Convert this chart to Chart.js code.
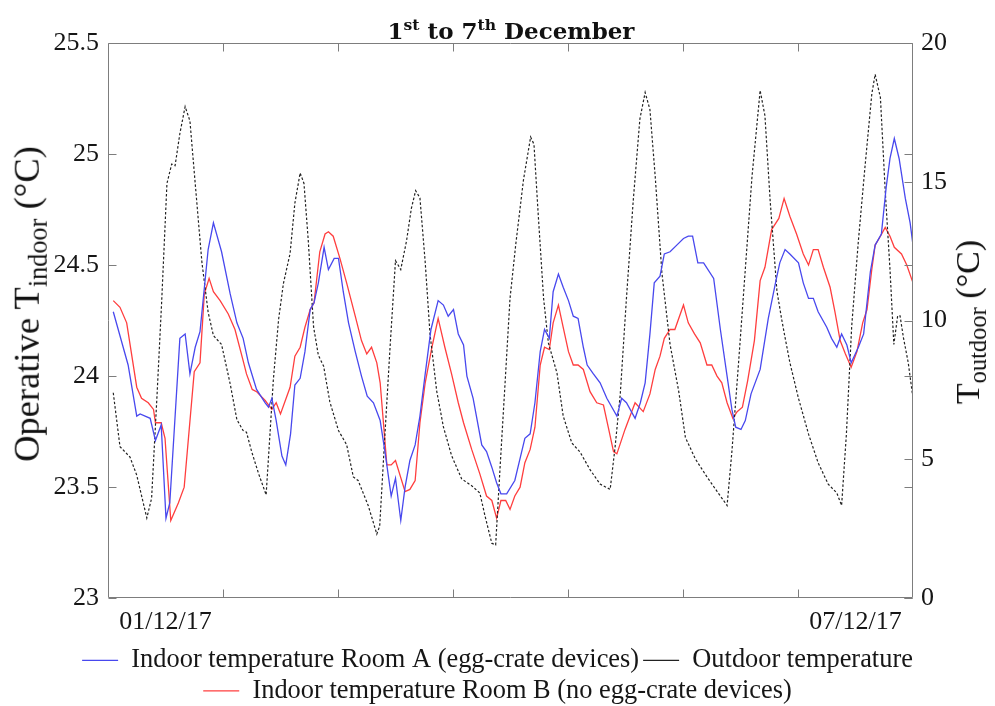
<!DOCTYPE html>
<html><head><meta charset="utf-8">
<script src="https://cdn.jsdelivr.net/npm/chart.js@4.4.0/dist/chart.umd.min.js"></script>
<style>
html,body{margin:0;padding:0;background:#fff;}
#wrap{position:relative;width:995px;height:706px;overflow:hidden;}
canvas{position:absolute;left:0;top:0;}
.ttl{position:absolute;left:511px;top:19px;transform:translate(-50%,0);font-family:'DejaVu Serif';font-weight:bold;font-size:23px;line-height:1;color:#111;white-space:nowrap;}
.ax{position:absolute;font-family:'Liberation Serif';color:#111;white-space:nowrap;line-height:1;transform:translate(-50%,-50%) rotate(-90deg);}
sup{font-size:0.68em;vertical-align:0.55em;line-height:0;}
sub{font-size:0.72em;vertical-align:-0.3em;line-height:0;}
</style></head>
<body>
<div id="wrap">
<canvas id="c" width="995" height="706"></canvas>
<div class="ttl">1<sup>st</sup> to 7<sup>th</sup> December</div>
<div class="ax" id="yl" style="left:27px;top:304px;font-size:36.5px;">Operative T<sub>indoor</sub> (°C)</div>
<div class="ax" id="yr" style="left:968px;top:322px;font-size:34px;">T<sub>outdoor</sub> (°C)</div>
</div>
<script>
// ---- data (hours since 01/12/17 00:00) ----
const hoursA = [1.1,4.2,6.0,6.7,8.8,9.9,11.1,12.1,12.9,15.0,16.1,17.1,18.2,19.2,20.9,22.0,23.7,25.5,26.9,28.2,29.3,31.0,32.8,33.5,34.2,35.1,36.3,37.1,38.1,39.0,40.1,41.1,42.2,43.0,43.9,45.1,46.0,47.2,48.1,49.1,50.2,51.6,52.9,54.1,55.4,56.8,57.8,59.1,60.0,61.1,62.0,63.0,64.1,65.1,66.2,67.4,68.9,70.0,71.0,72.1,73.1,74.2,74.9,76.2,78.0,79.0,80.1,81.1,82.0,83.2,84.9,86.0,87.0,88.1,89.1,90.2,91.1,92.1,92.9,94.0,95.0,96.1,97.1,98.1,99.2,100.0,101.3,102.7,104.1,106.2,107.2,108.2,110.0,111.1,112.1,113.1,114.0,115.2,116.1,117.3,118.7,120.1,121.1,122.0,123.1,124.3,126.4,127.8,129.2,130.2,131.0,132.1,133.0,134.2,136.1,137.8,139.4,140.2,141.3,142.3,144.1,145.1,146.2,147.2,148.2,150.0,151.0,152.1,153.1,154.2,155.1,156.6,157.7,159.1,160.1,161.4,162.4,163.2,164.1,165.1,166.4,167.4,168];
const roomA = [24.29,24.05,23.82,23.83,23.81,23.71,23.78,23.36,23.43,24.17,24.19,24.01,24.13,24.20,24.57,24.69,24.56,24.37,24.24,24.17,24.06,23.94,23.88,23.86,23.90,23.80,23.64,23.60,23.74,23.96,23.99,24.11,24.30,24.33,24.42,24.58,24.48,24.53,24.53,24.38,24.24,24.11,24.00,23.91,23.88,23.80,23.66,23.46,23.54,23.35,23.50,23.62,23.69,23.82,24.01,24.21,24.34,24.32,24.27,24.30,24.19,24.14,24.00,23.90,23.69,23.66,23.59,23.52,23.47,23.47,23.53,23.63,23.72,23.74,23.88,24.11,24.21,24.17,24.38,24.46,24.40,24.34,24.27,24.26,24.13,24.05,24.01,23.97,23.90,23.82,23.90,23.88,23.81,23.88,23.97,24.19,24.42,24.45,24.55,24.56,24.59,24.62,24.63,24.63,24.51,24.51,24.44,24.21,24.00,23.85,23.77,23.76,23.80,23.92,24.03,24.26,24.43,24.51,24.57,24.55,24.51,24.42,24.35,24.35,24.29,24.22,24.17,24.13,24.19,24.14,24.06,24.13,24.19,24.47,24.59,24.64,24.85,24.98,25.07,24.98,24.80,24.69,24.59];

const hoursB = [1.1,2.5,3.9,6.0,7.0,8.4,9.5,9.9,11.1,11.9,13.1,14.7,15.9,18.0,19.2,20.1,21.1,22.0,23.4,25.1,26.5,28.2,28.9,30.1,31.0,32.8,34.2,35.1,36.0,38.0,39.0,40.1,41.1,42.2,43.0,44.2,45.3,46.0,47.0,48.4,49.8,51.6,52.9,54.0,55.0,56.1,56.8,58.2,59.1,60.0,62.0,63.0,64.1,65.1,66.2,67.6,68.9,70.3,71.7,73.1,74.2,75.9,77.6,79.0,80.1,81.1,82.0,83.0,83.9,84.9,86.0,87.0,88.1,89.1,90.2,91.1,92.1,92.9,94.0,95.0,96.1,97.1,98.1,99.2,100.6,102.0,103.4,104.4,105.5,106.2,107.9,110.0,111.7,113.1,114.2,115.2,116.1,117.3,118.3,120.1,121.1,122.4,123.6,125.0,126.0,127.1,128.1,129.2,130.4,131.3,132.4,133.5,134.9,136.1,137.1,138.5,140.0,141.1,142.3,143.7,145.1,146.2,147.2,148.2,149.3,150.7,151.7,152.8,153.9,155.1,156.3,157.5,158.4,159.4,160.1,161.2,162.2,163.2,164.1,165.6,166.7,168];
const roomB = [24.34,24.31,24.24,23.95,23.90,23.88,23.85,23.79,23.79,23.72,23.35,23.43,23.50,24.02,24.06,24.37,24.44,24.38,24.34,24.28,24.21,24.07,24.01,23.94,23.93,23.89,23.85,23.88,23.83,23.95,24.09,24.13,24.22,24.30,24.33,24.56,24.64,24.65,24.63,24.53,24.42,24.27,24.16,24.10,24.13,24.06,23.97,23.60,23.60,23.62,23.48,23.49,23.53,23.79,23.97,24.13,24.26,24.13,24.01,23.88,23.79,23.67,23.56,23.46,23.44,23.36,23.44,23.44,23.40,23.46,23.50,23.61,23.67,23.77,24.05,24.13,24.12,24.24,24.32,24.22,24.11,24.05,24.05,24.03,23.93,23.88,23.87,23.77,23.66,23.65,23.76,23.88,23.84,23.92,24.03,24.09,24.17,24.21,24.21,24.32,24.24,24.19,24.15,24.05,24.05,24.00,23.97,23.88,23.81,23.84,23.86,23.98,24.16,24.43,24.49,24.66,24.71,24.80,24.72,24.64,24.55,24.50,24.57,24.57,24.49,24.40,24.29,24.16,24.10,24.04,24.11,24.24,24.30,24.48,24.59,24.63,24.67,24.63,24.58,24.55,24.50,24.42];

const hoursOut = [1.1,2.5,4.6,6.0,8.1,9.1,10.2,11.2,12.3,13.3,14.0,15.0,16.1,17.1,18.2,19.6,20.9,22.0,23.7,25.5,26.9,28.2,28.9,30.0,31.4,33.0,33.8,34.5,35.6,36.6,38.0,39.0,40.1,40.9,41.8,42.9,43.9,45.0,46.3,48.1,49.8,51.2,52.2,54.3,56.1,56.7,57.8,58.9,60.0,61.1,62.3,63.3,64.2,65.1,66.2,67.2,68.6,70.0,71.7,73.8,75.9,77.6,78.7,80.1,80.9,81.8,82.9,83.9,85.1,86.7,88.2,88.9,89.8,90.9,91.9,93.7,95.0,96.8,98.5,100.6,102.7,104.8,105.8,106.9,108.2,109.6,111.0,112.1,113.1,114.2,115.6,117.3,119.1,120.5,122.6,125.0,127.1,129.2,130.2,131.6,133.0,134.4,136.1,137.1,138.2,139.6,140.6,141.3,142.3,144.1,146.2,148.2,150.3,152.1,153.1,154.1,155.2,156.6,158.0,159.4,160.1,161.2,162.2,163.2,164.0,164.8,165.3,166.0,167.0,168];
const outdoor = [7.40,5.46,5.08,4.43,2.89,3.60,7.20,10.68,14.94,15.64,15.58,16.74,17.71,17.19,14.94,12.10,10.30,9.46,9.14,7.72,6.43,6.04,5.98,5.27,4.50,3.72,5.91,7.85,10.04,11.33,12.42,14.23,15.32,14.94,12.87,9.78,8.75,8.36,7.07,6.04,5.53,4.37,4.24,3.34,2.31,2.60,5.91,9.14,12.16,11.84,12.87,14.03,14.68,14.42,12.10,9.52,7.46,6.17,5.14,4.30,4.05,3.79,2.95,1.98,1.92,4.63,7.85,10.8,12.75,15.06,16.61,16.35,13.78,10.81,9.20,8.11,6.56,5.59,5.27,4.63,4.11,3.92,5.40,7.33,10.81,14.29,17.26,18.22,17.60,15.19,11.71,9.14,7.46,5.79,5.01,4.37,3.85,3.34,5.27,8.49,11.84,15.19,18.29,17.38,14.29,11.07,10.04,9.39,8.49,7.20,5.91,4.88,4.11,3.79,3.34,5.91,9.78,12.87,15.58,18.16,18.87,18.03,14.68,11.84,9.14,10.17,10.17,9.39,8.49,7.20];

const seriesNames = ['Indoor temperature Room A (egg-crate devices)', 'Outdoor temperature', 'Indoor temperature Room B (no egg-crate devices)'];
const dayBoundaries = [24, 48, 72, 96, 120, 144];
const dateLabelHours = [12, 156];
const dateLabels = ['01/12/17', '07/12/17'];
const leftTicks = [23, 23.5, 24, 24.5, 25, 25.5];
const rightTicks = [0, 5, 10, 15, 20];

const pts = (xs, ys) => xs.map((h, i) => ({x: h, y: ys[i]}));
const FONT = 'Liberation Serif';
const TXT = '#161616';

const frame = {
  id: 'frame',
  afterDatasetsDraw(chart) {
    const {ctx, chartArea: ca, scales} = chart;
    const L = Math.round(ca.left) + 0.5, R = Math.round(ca.right) - 0.5;
    const T = Math.round(ca.top) + 0.5, B = Math.round(ca.bottom) - 0.5;
    const tl = 8;
    ctx.save();
    ctx.strokeStyle = '#7d7d7d';
    ctx.lineWidth = 1;
    ctx.beginPath();
    ctx.rect(L, T, R - L, B - T);
    dayBoundaries.forEach(h => {
      const px = Math.round(scales.x.getPixelForValue(h)) + 0.5;
      ctx.moveTo(px, B); ctx.lineTo(px, B - tl);
      ctx.moveTo(px, T); ctx.lineTo(px, T + tl);
    });
    leftTicks.forEach(v => {
      const py = Math.round(scales.y.getPixelForValue(v)) + 0.5;
      ctx.moveTo(L, py); ctx.lineTo(L + tl, py);
      ctx.moveTo(R, py); ctx.lineTo(R - tl, py);
    });
    rightTicks.forEach(v => {
      const py = Math.round(scales.y2.getPixelForValue(v)) + 0.5;
      ctx.moveTo(R, py); ctx.lineTo(R - tl, py);
    });
    ctx.stroke();
    ctx.restore();
  }
};

new Chart(document.getElementById('c'), {
  type: 'line',
  data: {
    datasets: [
      {label: seriesNames[0], data: pts(hoursA, roomA), yAxisID: 'y', borderColor: 'rgb(72,72,238)', borderWidth: 1.3},
      {label: seriesNames[1], data: pts(hoursOut, outdoor), yAxisID: 'y2', borderColor: '#222', borderWidth: 1.2, borderDash: [2.5, 2]},
      {label: seriesNames[2], data: pts(hoursB, roomB), yAxisID: 'y', borderColor: 'rgb(255,62,62)', borderWidth: 1.3}
    ]
  },
  options: {
    responsive: false,
    animation: false,
    devicePixelRatio: 1,
    elements: {point: {radius: 0}, line: {tension: 0, fill: false}},
    layout: {padding: {left: 0, right: 0, top: 43, bottom: -8}},
    plugins: {
      title: {display: false},
      tooltip: {enabled: false},
      legend: {
        position: 'bottom',
        labels: {
          usePointStyle: true, pointStyle: 'line', pointStyleWidth: 36,
          font: {family: FONT, size: 26.4}, color: TXT, padding: 4
        }
      }
    },
    scales: {
      x: {
        type: 'linear', min: 0, max: 168, position: 'bottom',
        grid: {display: false, drawTicks: false}, border: {display: false},
        afterBuildTicks: s => { s.ticks = dateLabelHours.map(v => ({value: v})); },
        afterFit: s => { s.height = 45; },
        ticks: {
          autoSkip: false, maxRotation: 0, padding: 8, color: TXT,
          font: {family: FONT, size: 26},
          callback: v => dateLabels[dateLabelHours.indexOf(v)] || ''
        }
      },
      y: {
        type: 'linear', position: 'left', min: 23, max: 25.5,
        grid: {display: false, drawTicks: false}, border: {display: false},
        afterBuildTicks: s => { s.ticks = leftTicks.map(v => ({value: v})); },
        afterFit: s => { s.width = 108; },
        ticks: {padding: 9, color: TXT, font: {family: FONT, size: 26}, callback: v => String(v)}
      },
      y2: {
        type: 'linear', position: 'right', min: 0, max: 20,
        grid: {display: false, drawTicks: false}, border: {display: false},
        afterBuildTicks: s => { s.ticks = rightTicks.map(v => ({value: v})); },
        afterFit: s => { s.width = 82; },
        ticks: {padding: 8, color: TXT, font: {family: FONT, size: 26}, callback: v => String(v)}
      }
    }
  },
  plugins: [frame]
});
</script>
</body></html>
